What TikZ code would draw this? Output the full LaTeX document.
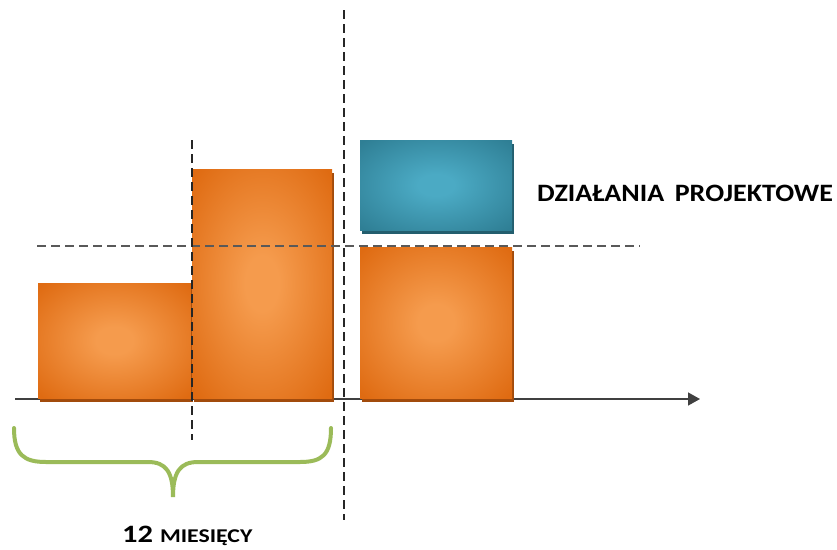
\documentclass[tikz,border=0pt]{standalone}
\usepackage{fontspec}
\setmainfont{Carlito}
\usetikzlibrary{arrows.meta,shadows}
\definecolor{orangedark}{HTML}{DF6B12}
\definecolor{orangelight}{HTML}{F59B4D}
\definecolor{orangeshade}{HTML}{A24B0C}
\definecolor{tealdark}{HTML}{2F7F95}
\definecolor{teallight}{HTML}{4BAAC4}
\definecolor{tealshade}{HTML}{235E6E}
\definecolor{bracegreen}{HTML}{9BBB59}
\pgfdeclareradialshading{orangepillow}{\pgfpointorigin}{color(0bp)=(orangelight); color(6bp)=(orangelight); color(34bp)=(orangedark); color(50bp)=(orangedark)}
\pgfdeclareradialshading{tealpillow}{\pgfpointorigin}{color(0bp)=(teallight); color(6bp)=(teallight); color(34bp)=(tealdark); color(50bp)=(tealdark)}
\tikzset{
  bar/.style={anchor=south west, inner sep=0pt, outer sep=0pt},
  orangebar/.style={bar, shading=orangepillow,
    drop shadow={shadow xshift=2pt, shadow yshift=-4pt, opacity=1, fill=orangeshade}},
  tealbar/.style={bar, shading=tealpillow,
    drop shadow={shadow xshift=2pt, shadow yshift=-4pt, opacity=1, fill=tealshade}},
  guide/.style={line width=1.3pt, dash pattern=on 9pt off 5pt},
  label/.style={font=\bfseries\fontsize{25}{30}\selectfont, inner sep=0pt, transform shape},
}

\begin{document}
\begin{tikzpicture}[x=1pt, y=-1pt]
    \useasboundingbox (0,0) rectangle (837,549);
    % time axis
    \coordinate (axisstart) at (15,399);
    \coordinate (axisend) at (700,399);
    \draw[line width=1.5pt, black!75, -{Triangle[length=12pt,width=13pt]}] (axisstart) -- (axisend);
    % bars
    \node[orangebar, minimum width=153pt, minimum height=115pt] (first) at (38,398) {};
    \node[orangebar, minimum width=140pt, minimum height=229pt] (second) at (192,398) {};
    \node[orangebar, minimum width=152pt, minimum height=151pt] (third) at (360,398) {};
    \node[tealbar, minimum width=152pt, minimum height=90pt] (project) at (360,230) {};
    % guide lines
    \coordinate (levelstart) at (37,246);
    \coordinate (levelend) at (640,246);
    \draw[guide, black!65] (levelstart) -- (levelend);
    \coordinate (yeartop) at (192,140);
    \coordinate (yearbottom) at (192,440);
    \draw[guide, black!85] (yeartop) -- (yearbottom);
    \coordinate (nowtop) at (344,10);
    \coordinate (nowbottom) at (344,520);
    \draw[guide, black!85] (nowtop) -- (nowbottom);
    % brace under the first year
    \coordinate (braceleft) at (14,428);
    \coordinate (bracetip) at (173,497);
    \coordinate (braceright) at (331,428);
    \draw[bracegreen, line width=4pt, line cap=round]
        (braceleft) .. controls (14,455) and (24,462) .. (46,462) -- (148,462)
        .. controls (166,462) and (173,472) .. (bracetip)
        .. controls (173,472) and (180,462) .. (198,462) -- (300,462)
        .. controls (322,462) and (331,455) .. (braceright);
    % labels
    \node[label, xscale=1.12, anchor=west] (projectlabel) at (537,193) {DZIAŁANIA\hspace{0.15em} PROJEKTOWE};
    \node[label, xscale=1.22, anchor=base west] (yearlabel) at (122,542) {12 {\fontsize{19.5}{24}\selectfont MIESIĘCY}};
\end{tikzpicture}
\end{document}
